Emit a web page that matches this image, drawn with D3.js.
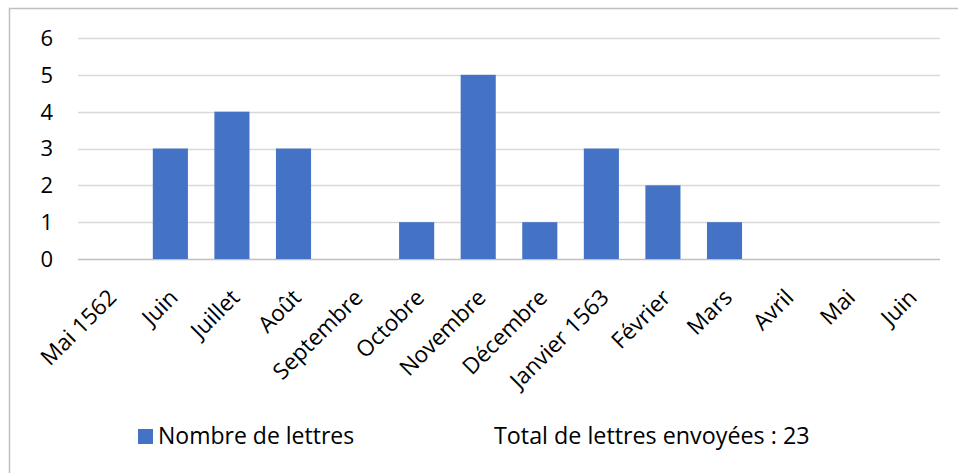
<!DOCTYPE html>
<meta charset="utf-8">
<style>
  body { margin: 0; background: #fff; }
  text { font-family: "Open Sans", sans-serif; fill: #000; }
</style>
<body>
<script src="https://d3js.org/d3.v7.min.js"></script>
<script>

// months and number of letters sent
var months = ["Mai 1562", "Juin", "Juillet", "Août", "Septembre", "Octobre", "Novembre",
              "Décembre", "Janvier 1563", "Février", "Mars", "Avril", "Mai", "Juin"];
var letters = [0, 3, 4, 3, 0, 1, 5, 1, 3, 2, 1, 0, 0, 0];
var yTicks = [0, 1, 2, 3, 4, 5, 6];
var seriesName = "Nombre de lettres";
var totalText = "Total de lettres envoyées : 23";

var W = 958, H = 473;
var margin = {top: 38, left: 78, right: 18};
var plotBottom = 259;

var svg = d3.select("body").append("svg")
    .attr("width", W)
    .attr("height", H);

// outer frame
svg.append("rect")
    .attr("x", 9.5).attr("y", 8.5)
    .attr("width", W + 10).attr("height", H + 10)
    .attr("fill", "none")
    .attr("stroke", "#bfbfbf")
    .attr("stroke-width", 1.5);

var x = d3.scaleBand()
    .domain(d3.range(months.length))
    .range([margin.left, W - margin.right])
    .paddingInner(0.43)
    .paddingOuter(0.215);

var y = d3.scaleLinear()
    .domain([0, 6])
    .range([plotBottom, margin.top]);

// gridlines
svg.append("g")
  .selectAll("line")
  .data(yTicks)
  .enter().append("line")
    .attr("x1", margin.left)
    .attr("x2", W - margin.right)
    .attr("y1", function(d) { return Math.round(y(d)) + 0.5; })
    .attr("y2", function(d) { return Math.round(y(d)) + 0.5; })
    .attr("stroke", function(d) { return d === 0 ? "#bfbfbf" : "#d9d9d9"; })
    .attr("stroke-width", 1.3);

// y labels
svg.append("g")
  .selectAll("text")
  .data(yTicks)
  .enter().append("text")
    .attr("x", 53)
    .attr("y", function(d) { return y(d); })
    .attr("dy", "0.36em")
    .attr("text-anchor", "end")
    .style("font-size", "22px")
    .text(function(d) { return d; });

// bars
svg.append("g")
  .selectAll("rect")
  .data(letters)
  .enter().append("rect")
    .attr("x", function(d, i) { return x(i); })
    .attr("width", x.bandwidth())
    .attr("y", function(d) { return y(d); })
    .attr("height", function(d) { return y(0) - y(d); })
    .attr("fill", "#4472c4");

// x labels, rotated
svg.append("g")
  .selectAll("text")
  .data(months)
  .enter().append("text")
    .attr("transform", function(d, i) {
      var cx = x(i) + x.bandwidth() / 2;
      return "translate(" + (cx + 9) + "," + (plotBottom + 40) + ")rotate(-45)";
    })
    .attr("text-anchor", "end")
    .style("font-size", "22.5px")
    .text(function(d) { return d; });

// legend
svg.append("rect")
    .attr("x", 138).attr("y", 429)
    .attr("width", 15).attr("height", 15)
    .attr("fill", "#4472c4");

svg.append("text")
    .attr("x", 158).attr("y", 444)
    .style("font-size", "23px")
    .text(seriesName);

svg.append("text")
    .attr("x", 494).attr("y", 444)
    .style("font-size", "23.3px")
    .text(totalText);

</script>
</body>
